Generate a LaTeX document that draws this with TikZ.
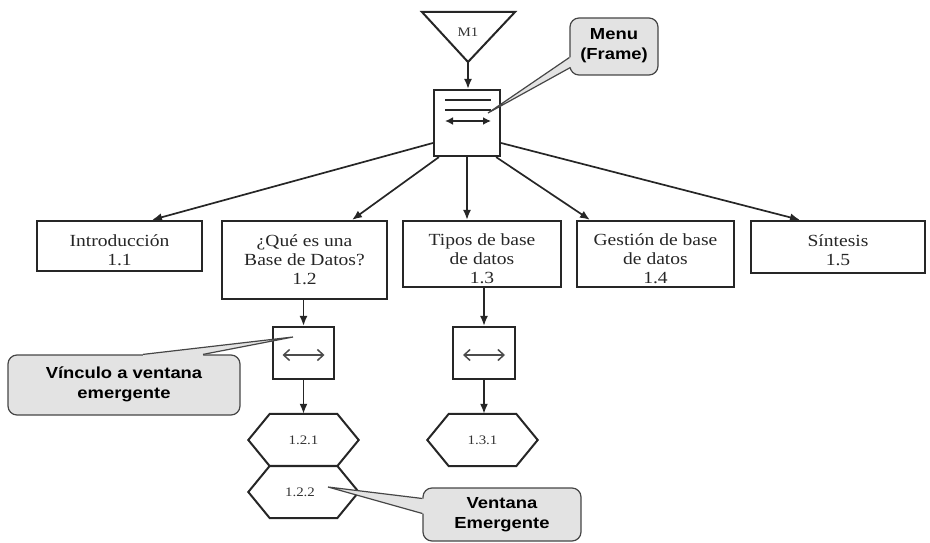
\documentclass[tikz,border=0pt]{standalone}
\usepackage{fontspec}
\newfontfamily\serifA[FakeStretch=1.15]{Liberation Serif}
\newfontfamily\sansB[FakeStretch=1.15]{Liberation Sans}
\usetikzlibrary{arrows.meta,calc}
\begin{document}
\begin{tikzpicture}[x=1pt,y=-1pt,
  box/.style={draw=black!85, line width=2.2pt, inner sep=0pt},
  boxtext/.style={font=\serifA\fontsize{17}{19}\selectfont, align=center, text=black!85, inner sep=0pt},
  conn/.style={line width=1.7pt, draw=black!85, -{Latex[length=10pt,width=8pt]}},
  callout/.style={draw=gray!55!black, fill=gray!22, line width=1.2pt, rounded corners=9pt, inner sep=0pt},
  calltext/.style={font=\sansB\bfseries\fontsize{16}{20}\selectfont, align=center, inner sep=0pt},
  hexlabel/.style={inner sep=0pt, minimum width=67pt, minimum height=52pt, font=\serifA\fontsize{13}{15}\selectfont, text=black!80},
  hexline/.style={draw=black!85, line width=2pt, line join=miter},
  inner/.style={line width=1.8pt, draw=black!85},
  linkarrow/.style={line width=1.5pt, draw=black!70, {Straight Barb[length=6pt,width=11pt]}-{Straight Barb[length=6pt,width=11pt]}},
  ptr/.style={draw=gray!55!black, line width=1.2pt},
]
\useasboundingbox (0,0) rectangle (930,543);

% ---- M1 triangle ----
\coordinate (m1tl) at (422,12);
\coordinate (m1tr) at (515,12);
\coordinate (m1tip) at (468,62);
\draw[line width=2pt, draw=black!85, line join=miter] (m1tl) -- (m1tr) -- (m1tip) -- cycle;
\node[font=\serifA\fontsize{13}{15}\selectfont, text=black!80, inner sep=0pt] (m1) at (468,32) {M1};

% ---- menu box ----
\node[box, minimum width=66pt, minimum height=66pt] (menu) at (467,123) {};
\draw[inner] ($(menu.center)+(-22,-23)$) -- ++(46,0);
\draw[inner] ($(menu.center)+(-22,-13)$) -- ++(46,0);
\draw[inner, line width=2.2pt, {Latex[length=8pt,width=8pt]}-{Latex[length=8pt,width=8pt]}] ($(menu.center)+(-22,-2)$) -- ++(46,0);
\draw[conn] (m1tip) -- (m1tip |- menu.north);

% ---- row of boxes ----
\node[box, minimum width=165pt, minimum height=50pt] (intro) at (119.5,246) {};
\node[boxtext] (introt) at (119.5,250.5) {Introducción\\1.1};
\node[box, minimum width=165pt, minimum height=78pt] (q12) at (304.5,260) {};
\node[boxtext] (q12t) at (304.5,260) {¿Qué es una\\Base de Datos?\\1.2};
\node[box, minimum width=158pt, minimum height=66pt] (t13) at (482,254) {};
\node[boxtext] (t13t) at (482,259) {Tipos de base\\de datos\\1.3};
\node[box, minimum width=157pt, minimum height=66pt] (g14) at (655.5,254) {};
\node[boxtext] (g14t) at (655.5,259) {Gestión de base\\de datos\\1.4};
\node[box, minimum width=174pt, minimum height=52pt] (s15) at (838,247) {};
\node[boxtext] (s15t) at (838,250) {Síntesis\\1.5};

% ---- connectors from menu ----
\draw[conn] ($(menu.west)+(0,20)$) -- ($(intro.north)+(32.5,0)$);
\draw[conn] ($(menu.south west)+(6,0)$) -- ($(q12.north)+(47.5,0)$);
\draw[conn] (menu.south) -- (menu.south |- t13.north);
\draw[conn] ($(menu.south east)+(-5,0)$) -- ($(g14.north)+(-65.5,0)$);
\draw[conn] ($(menu.east)+(0,20)$) -- ($(s15.north)+(-38,0)$);

% ---- link boxes ----
\node[box, minimum width=61pt, minimum height=52pt] (link1) at (303.5,353) {};
\draw[linkarrow] ($(link1.center)+(-21,2)$) -- ++(42,0);
\node[box, minimum width=62pt, minimum height=52pt] (link2) at (484,353) {};
\draw[linkarrow] ($(link2.center)+(-21,2)$) -- ++(42,0);

\draw[conn] (link1.north |- q12.south) -- (link1.north);
\draw[conn] (link2.north |- t13.south) -- (link2.north);

% ---- hexagons ----
\node[hexlabel] (h121) at (303.5,440) {1.2.1};
\node[hexlabel] (h122) at (303.5,492) {};
\node[font=\serifA\fontsize{13}{15}\selectfont, text=black!80, inner sep=0pt] (h122t) at (300,492) {1.2.2};
\node[hexlabel] (h131) at (482.5,440) {1.3.1};
\foreach \h in {h121,h122,h131}{
  \draw[hexline] (\h.north west) -- (\h.north east) -- ($(\h.east)+(21.5,0)$) -- (\h.south east) -- (\h.south west) -- ($(\h.west)+(-21.5,0)$) -- cycle;
}
\draw[conn] (link1.south) -- (link1.south |- h121.north);
\draw[conn] (link2.south) -- (link2.south |- h131.north);

% ---- callout: Menu (Frame) ----
\node[callout, minimum width=88pt, minimum height=57pt] (menuC) at (614,46.5) {};
\coordinate (menuPtr) at (488,113);
\fill[gray!22] ($(menuC.west)+(4,11)$) -- ($(menuC.west)+(0,11)$) -- (menuPtr) -- ($(menuC.west)+(1,21)$) -- ($(menuC.west)+(4,21)$) -- cycle;
\draw[ptr] ($(menuC.west)+(0,11)$) -- (menuPtr) -- ($(menuC.west)+(1,21)$);
\node[calltext] (menuCt) at (614,46) {Menu\\(Frame)};

% ---- callout: Vínculo a ventana emergente ----
\node[callout, minimum width=232pt, minimum height=60pt] (vinC) at (124,385) {};
\coordinate (vinPtr) at (293,337);
\fill[gray!22] ($(vinC.north)+(19,4)$) -- ($(vinC.north)+(19,0)$) -- (vinPtr) -- ($(vinC.north)+(79,0)$) -- ($(vinC.north)+(79,4)$) -- cycle;
\draw[ptr] ($(vinC.north)+(19,0)$) -- (vinPtr) -- ($(vinC.north)+(79,0)$);
\node[calltext] (vinCt) at (124,384) {Vínculo a ventana\\emergente};

% ---- callout: Ventana Emergente ----
\node[callout, minimum width=158pt, minimum height=53pt] (venC) at (502,514.5) {};
\coordinate (venPtr) at (328,487);
\fill[gray!22] ($(venC.west)+(4,-16)$) -- ($(venC.west)+(0,-16)$) -- (venPtr) -- ($(venC.west)+(0,-1)$) -- ($(venC.west)+(4,-1)$) -- cycle;
\draw[ptr] ($(venC.west)+(0,-16)$) -- (venPtr) -- ($(venC.west)+(0,-1)$);
\node[calltext] (venCt) at (502,515) {Ventana\\Emergente};
\end{tikzpicture}
\end{document}
